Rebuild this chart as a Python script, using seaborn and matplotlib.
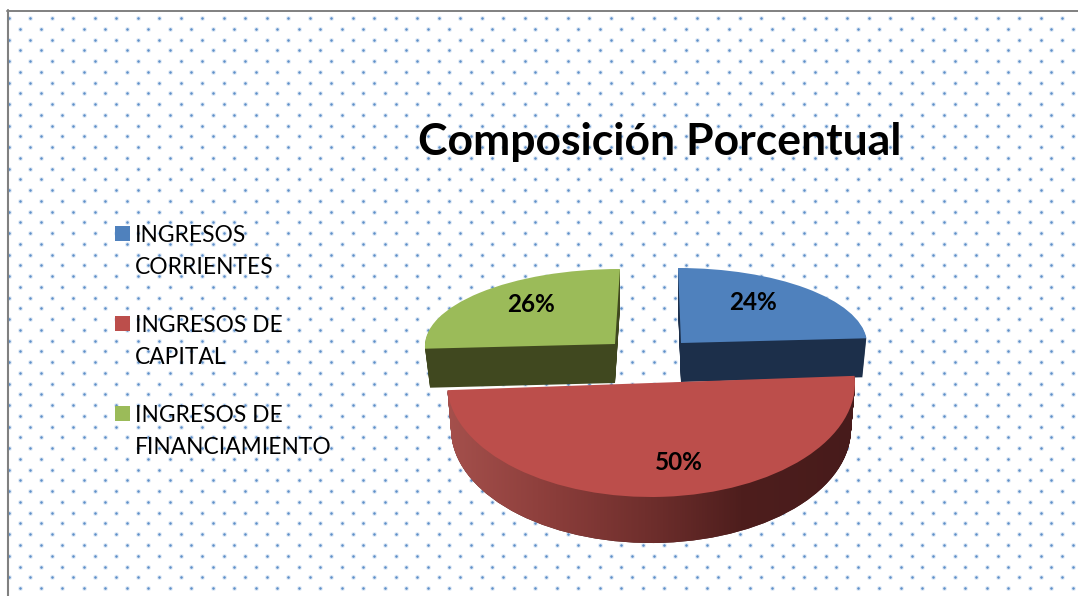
import numpy as np
import pandas as pd
import matplotlib
matplotlib.use('Agg')
import matplotlib.pyplot as plt
from matplotlib.colors import LinearSegmentedColormap
from matplotlib.patches import PathPatch, Rectangle
from matplotlib.path import Path
from matplotlib.transforms import Affine2D
import seaborn as sns

# Data
categories = ['INGRESOS\nCORRIENTES', 'INGRESOS DE\nCAPITAL', 'INGRESOS DE\nFINANCIAMIENTO']
shares = [24, 50, 26]
top_colors = ['#4F81BD', '#BC4E4B', '#9BBB59']
side_colors = ['#1C2F4A', None, '#40481F']
chart_title = 'Composición Porcentual'

sns.set_theme(style='white')
plt.rcParams['font.family'] = ['Lato', 'DejaVu Sans']

fig = plt.figure(figsize=(10.78, 5.96), dpi=100)
ax = fig.add_axes([0, 0, 1, 1])

# dotted page background
cols = np.arange(0, 51)
rows = np.arange(0, 54)
xs, ys = [], []
for r in rows:
    start = 9 if r % 2 == 0 else 19.5
    for c in cols:
        x = start + c * 21.49
        if x < 1080:
            xs.append(x)
            ys.append(18 + r * 10.755)
dots = pd.DataFrame({'x': xs, 'y': ys})
sns.scatterplot(data=dots, x='x', y='y', s=13, color='#E3ECF7', linewidth=0, ax=ax, zorder=1, legend=False)
sns.scatterplot(data=dots, x='x', y='y', s=3.5, color='#5F90C9', linewidth=0, ax=ax, zorder=1.1, legend=False)


def slice_transform(a, b, shear, cx, cy):
    return Affine2D.from_values(a, 0, shear, -b, cx, cy) + ax.transData


def draw_slice(i, trans, color, zorder):
    wedges, _ = ax.pie(shares, startangle=90, counterclock=False, radius=1, colors=top_colors)
    for j, w in enumerate(wedges):
        if j != i:
            w.remove()
    wedge = wedges[i]
    wedge.set_transform(trans)
    wedge.set_facecolor(color)
    wedge.set_edgecolor('none')
    wedge.set_zorder(zorder)
    return wedge


# geometry of each slice: half axes, shear, vertex, depth, shrink at the bottom
geom = {
    0: dict(a=186, b=75, sh=-3, cx=681, cy=343, depth=39, shrink=4),
    1: dict(a=204, b=114, sh=0, cx=651, cy=383, depth=46, shrink=4),
    2: dict(a=190, b=75, sh=5, cx=615, cy=344, depth=39, shrink=5),
}

# blue and green extrusion then faces
for i, z in [(0, 3), (2, 3)]:
    g = geom[i]
    for d in range(g['depth'], 0, -1):
        a = g['a'] - g['shrink'] * d / g['depth']
        draw_slice(i, slice_transform(a, g['b'], g['sh'], g['cx'], g['cy'] + d), side_colors[i], z)
    draw_slice(i, slice_transform(g['a'], g['b'], g['sh'], g['cx'], g['cy']), top_colors[i], z + 0.5)

# red side with its gradient, clipped to the stacked slice outline
g = geom[1]
outline = []
for d in range(1, g['depth'] + 1):
    a = g['a'] - g['shrink'] * d / g['depth']
    w = draw_slice(1, slice_transform(a, g['b'], g['sh'], g['cx'], g['cy'] + d), '#4A1C1C', 4)
    data_trans = Affine2D.from_values(a, 0, g['sh'], -g['b'], g['cx'], g['cy'] + d)
    outline.append(w.get_path().transformed(data_trans))
clip = PathPatch(Path.make_compound_path(*outline), transform=ax.transData, facecolor='none', edgecolor='none')
ax.add_patch(clip)
side_cmap = LinearSegmentedColormap.from_list(
    'side', [(0, '#A5504C'), (0.25, '#8C3E3B'), (0.5, '#6E2E2C'), (0.72, '#4E1E1D'), (1, '#471B1B')])
grad = ax.imshow(np.linspace(0, 1, 256)[None, :], extent=(447, 856, 560, 370), cmap=side_cmap,
                 aspect='auto', zorder=4.2)
grad.set_clip_path(clip)
draw_slice(1, slice_transform(g['a'], g['b'], g['sh'], g['cx'], g['cy']), top_colors[1], 4.5)

# page frame
ax.plot([7, 1078], [10.5, 10.5], color='#808080', lw=1.4, zorder=6)
ax.plot([8, 8], [10, 596], color='#808080', lw=1.5, zorder=6)
ax.add_patch(Rectangle((0, 0), 7, 596, facecolor='white', edgecolor='none', zorder=5))

# percentage labels
label_pos = [(753, 303), (679, 462), (531, 305)]
for v, (x, y) in zip(shares, label_pos):
    ax.text(x, y, f'{v}%', ha='center', va='center', fontsize=17.5, fontweight='bold', color='black', zorder=7)

# title
ax.text(660, 142, chart_title, ha='center', va='center', fontsize=32, fontweight='bold', color='black', zorder=7)

# legend
legend_y = [233.5, 323.5, 413.5]
for cat, color, y in zip(categories, top_colors, legend_y):
    ax.add_patch(Rectangle((115, y - 7.5), 15, 15, facecolor=color, edgecolor='none', zorder=7))
    ax.text(135, y - 8, cat, ha='left', va='top', fontsize=16.4, linespacing=1.6, color='black', zorder=7)

ax.set_aspect('auto')
ax.set_xlim(0, 1078)
ax.set_ylim(596, 0)
ax.set_axis_off()
fig.patch.set_facecolor('white')
fig.savefig('out.png', dpi=100, facecolor='white')
